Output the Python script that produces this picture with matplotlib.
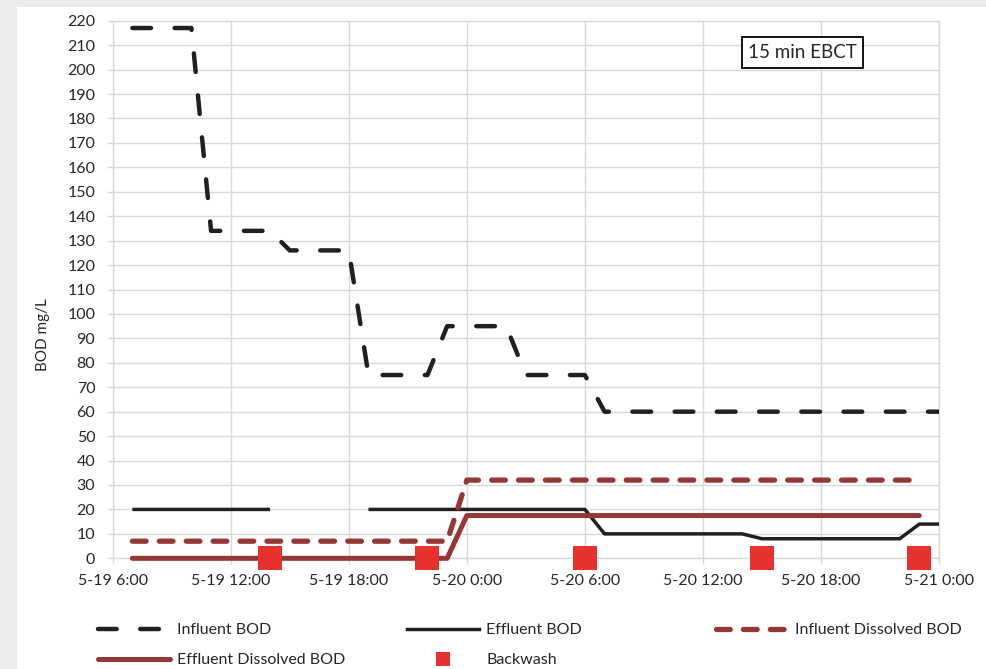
from datetime import datetime

import numpy as np
import matplotlib
matplotlib.use("Agg")
import matplotlib.pyplot as plt
import matplotlib.dates as mdates
from matplotlib.lines import Line2D
from matplotlib.patches import Rectangle
from matplotlib.ticker import FuncFormatter

plt.rcParams["font.family"] = ["Lato", "DejaVu Sans"]

YEAR = 2017

# data (month-day hour:min)
influent_times = ["5-19 7:00", "5-19 10:00", "5-19 11:00", "5-19 14:00", "5-19 15:00",
                  "5-19 18:00", "5-19 19:00", "5-19 22:00", "5-19 23:00", "5-20 2:00",
                  "5-20 3:00", "5-20 6:00", "5-20 7:00", "5-21 0:00"]
influent_bod = [217, 217, 134, 134, 126, 126, 75, 75, 95, 95, 75, 75, 60, 60]

effluent_times = ["5-19 7:00", "5-19 14:00", "5-19 16:00", "5-19 19:00", "5-20 6:00",
                  "5-20 7:00", "5-20 14:00", "5-20 15:00", "5-20 22:00", "5-20 23:00",
                  "5-21 0:00"]
effluent_bod = [20, 20, np.nan, 20, 20, 10, 10, 8, 8, 14, 14]

inf_diss_times = ["5-19 7:00", "5-19 23:00", "5-20 0:00", "5-20 23:00"]
influent_dissolved = [7, 7, 32, 32]

eff_diss_times = ["5-19 7:00", "5-19 23:00", "5-20 0:00", "5-20 23:00"]
effluent_dissolved = [0, 0, 17.5, 17.5]

backwash_times = ["5-19 14:00", "5-19 22:00", "5-20 6:00", "5-20 15:00", "5-20 23:00"]
backwash = [0, 0, 0, 0, 0]

BLACK = "#231f20"
BROWN = "#953735"
RED = "#e8302f"
GRID = "#d9d9d9"
TEXT = "#262626"


def to_dt(labels):
    return [datetime.strptime(f"{YEAR}-{s}", "%Y-%m-%d %H:%M") for s in labels]


def fmt_date(x, pos=None):
    d = mdates.num2date(x)
    return f"{d.month}-{d.day} {d.hour}:{d.minute:02d}"


fig = plt.figure(figsize=(9.87, 6.69), dpi=100, facecolor="#ebebeb")
fig.add_artist(Rectangle((17 / 987, 0), 1, (669 - 7) / 669, transform=fig.transFigure,
                         facecolor="white", edgecolor="none", zorder=0))

ax = fig.add_axes([112.7 / 987, 1 - 558.3 / 669, (939 - 112.7) / 987, (558.3 - 20.7) / 669])

inf_dash = (0, (4.2, 5.3))
diss_dash = (0, (2.6, 2.5))

ax.plot(to_dt(influent_times), influent_bod, color=BLACK, lw=3.2, ls=inf_dash,
        dash_capstyle="round", zorder=3)
ax.plot(to_dt(effluent_times), effluent_bod, color=BLACK, lw=2.5,
        solid_capstyle="butt", zorder=3)
ax.plot(to_dt(inf_diss_times), influent_dissolved, color=BROWN, lw=3.8, ls=diss_dash,
        dash_capstyle="round", zorder=3)
ax.plot(to_dt(eff_diss_times), effluent_dissolved, color=BROWN, lw=3.6,
        solid_capstyle="round", clip_on=False, zorder=4)
ax.plot(to_dt(backwash_times), backwash, ls="none", marker="s", ms=16.8, mew=0,
        color=RED, clip_on=False, zorder=5)

ax.set_xlim(datetime(YEAR, 5, 19, 6), datetime(YEAR, 5, 21, 0))
ax.set_ylim(0, 220)
ax.set_yticks(range(0, 221, 10))
ax.xaxis.set_major_locator(mdates.HourLocator(byhour=[0, 6, 12, 18]))
ax.xaxis.set_major_formatter(FuncFormatter(fmt_date))

ax.grid(True, color=GRID, lw=1.0)
ax.set_axisbelow(True)
for s in ax.spines.values():
    s.set_color(GRID)
    s.set_linewidth(1.0)
ax.tick_params(axis="both", length=4.5, width=1, color=GRID, labelsize=11.5, labelcolor=TEXT)
ax.tick_params(axis="y", pad=8)
ax.tick_params(axis="x", pad=7)

fig.text(43 / 987, 1 - 335 / 669, "BOD mg/L", rotation=90, ha="center", va="center",
         fontsize=11, color=TEXT)

fig.text(802.5 / 987, 1 - 52.5 / 669, "15 min EBCT", ha="center", va="center",
         fontsize=13.5, color=TEXT,
         bbox=dict(boxstyle="square,pad=0.35", fc="white", ec="black", lw=1.3))

# legend, three columns like the original
h_inf = Line2D([], [], color=BLACK, lw=3.2, ls=inf_dash, dash_capstyle="round")
h_eff = Line2D([], [], color=BLACK, lw=2.5)
h_infd = Line2D([], [], color=BROWN, lw=3.8, ls=diss_dash, dash_capstyle="round")
h_effd = Line2D([], [], color=BROWN, lw=3.6, solid_capstyle="round")
h_bw = Line2D([], [], ls="none", marker="s", ms=9.4, mew=0, color=RED)

leg_kw = dict(loc="upper left", frameon=False, fontsize=11.5, handlelength=4.5,
              handletextpad=0.45, labelspacing=1.0, borderpad=0, borderaxespad=0,
              labelcolor=TEXT)
fig.legend([h_inf, h_effd], ["Influent BOD", "Effluent Dissolved BOD"],
           bbox_to_anchor=(98 / 987, 1 - 623 / 669), **leg_kw)
fig.legend([h_eff, h_bw], ["Effluent BOD", "Backwash"],
           bbox_to_anchor=(407 / 987, 1 - 623 / 669), **leg_kw)
fig.legend([h_infd], ["Influent Dissolved BOD"],
           bbox_to_anchor=(716 / 987, 1 - 623 / 669), **leg_kw)

fig.savefig("out.png", dpi=100, facecolor=fig.get_facecolor())
